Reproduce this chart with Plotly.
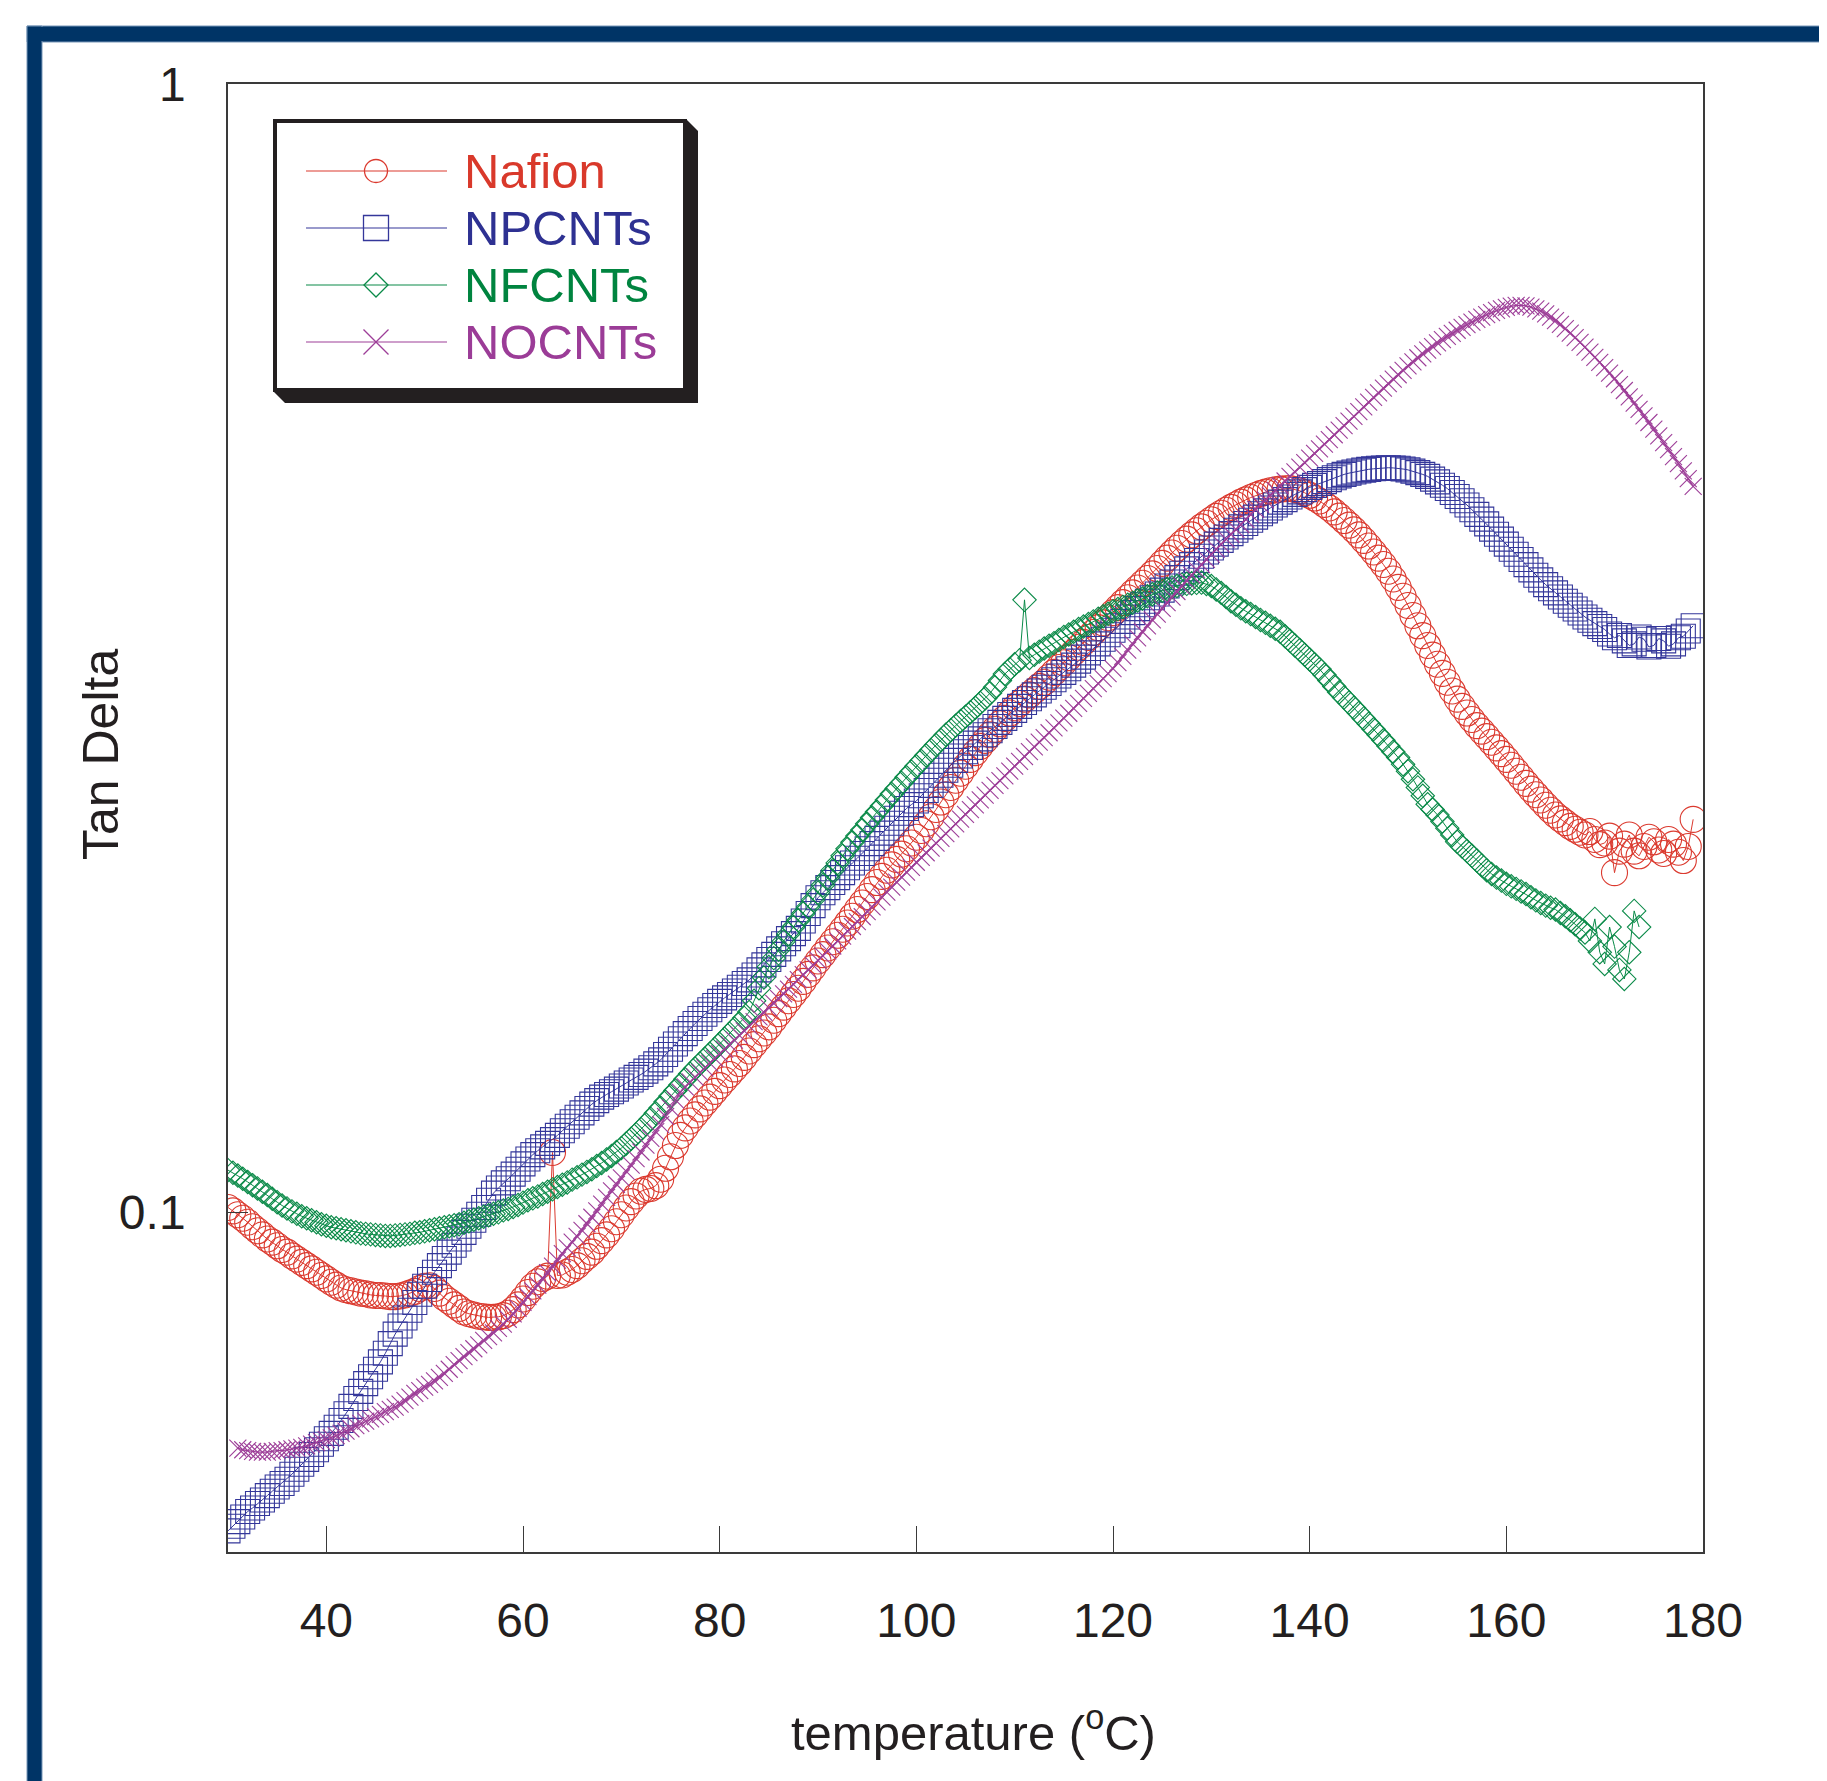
import math
import plotly.graph_objects as go

# ---------------- data (0.5 degC steps) ----------------
T0_NAFION, T0_NPCNT, T0_NFCNT, T0_NOCNT = 30.0, 30.0, 30.0, 31.0
T_STEP = 0.5

NAFION = [
    0.1010, 0.1003, 0.0995, 0.0988, 0.0980, 0.0971, 0.0963, 0.0955, 0.0947, 0.0941,
    0.0934, 0.0927, 0.0922, 0.0915, 0.0909, 0.0903, 0.0897, 0.0891, 0.0885, 0.0879,
    0.0873, 0.0867, 0.0862, 0.0857, 0.0854, 0.0852, 0.0850, 0.0848, 0.0847, 0.0845,
    0.0844, 0.0844, 0.0843, 0.0842, 0.0842, 0.0843, 0.0845, 0.0848, 0.0851, 0.0856,
    0.0860, 0.0861, 0.0856, 0.0848, 0.0840, 0.0834, 0.0828, 0.0822, 0.0816, 0.0813,
    0.0811, 0.0809, 0.0808, 0.0807, 0.0807, 0.0808, 0.0810, 0.0814, 0.0820, 0.0828,
    0.0838, 0.0849, 0.0860, 0.0868, 0.0874, 0.0878, 0.1130, 0.0879, 0.0880, 0.0885,
    0.0890, 0.0897, 0.0906, 0.0914, 0.0922, 0.0933, 0.0944, 0.0955, 0.0967, 0.0981,
    0.0995, 0.1009, 0.1022, 0.1034, 0.1044, 0.1048, 0.1050, 0.1056, 0.1070, 0.1094,
    0.1120, 0.1146, 0.1170, 0.1188, 0.1205, 0.1220, 0.1235, 0.1250, 0.1265, 0.1280,
    0.1295, 0.1310, 0.1325, 0.1340, 0.1355, 0.1372, 0.1390, 0.1408, 0.1425, 0.1442,
    0.1460, 0.1480, 0.1500, 0.1520, 0.1540, 0.1560, 0.1580, 0.1602, 0.1625, 0.1647,
    0.1670, 0.1692, 0.1715, 0.1737, 0.1760, 0.1782, 0.1805, 0.1830, 0.1855, 0.1880,
    0.1905, 0.1932, 0.1960, 0.1985, 0.2010, 0.2032, 0.2055, 0.2077, 0.2100, 0.2125,
    0.2150, 0.2180, 0.2210, 0.2242, 0.2275, 0.2310, 0.2345, 0.2380, 0.2415, 0.2450,
    0.2485, 0.2520, 0.2555, 0.2588, 0.2620, 0.2650, 0.2680, 0.2710, 0.2740, 0.2770,
    0.2800, 0.2825, 0.2850, 0.2875, 0.2900, 0.2925, 0.2950, 0.2980, 0.3010, 0.3040,
    0.3070, 0.3102, 0.3135, 0.3168, 0.3200, 0.3232, 0.3265, 0.3298, 0.3330, 0.3365,
    0.3400, 0.3435, 0.3470, 0.3505, 0.3540, 0.3575, 0.3610, 0.3645, 0.3680, 0.3720,
    0.3760, 0.3800, 0.3840, 0.3878, 0.3915, 0.3950, 0.3985, 0.4018, 0.4050, 0.4080,
    0.4110, 0.4138, 0.4165, 0.4190, 0.4215, 0.4238, 0.4260, 0.4280, 0.4300, 0.4318,
    0.4335, 0.4348, 0.4360, 0.4368, 0.4375, 0.4378, 0.4380, 0.4372, 0.4360, 0.4342,
    0.4320, 0.4296, 0.4270, 0.4241, 0.4210, 0.4176, 0.4140, 0.4103, 0.4065, 0.4026,
    0.3985, 0.3940, 0.3895, 0.3848, 0.3800, 0.3751, 0.3700, 0.3642, 0.3580, 0.3516,
    0.3450, 0.3380, 0.3310, 0.3244, 0.3180, 0.3118, 0.3060, 0.3004, 0.2950, 0.2898,
    0.2850, 0.2808, 0.2770, 0.2734, 0.2700, 0.2670, 0.2640, 0.2610, 0.2580, 0.2550,
    0.2520, 0.2490, 0.2460, 0.2430, 0.2400, 0.2372, 0.2345, 0.2320, 0.2295, 0.2272,
    0.2250, 0.2232, 0.2215, 0.2198, 0.2185, 0.2172, 0.2160, 0.2175, 0.2140, 0.2118,
    0.2125, 0.2155, 0.2000, 0.2090, 0.2120, 0.2160, 0.2090, 0.2070, 0.2110, 0.2150,
    0.2130, 0.2095, 0.2080, 0.2140, 0.2120, 0.2085, 0.2050, 0.2110, 0.2230,
]

NPCNT = [
    0.0522, 0.0527, 0.0532, 0.0537, 0.0543, 0.0547, 0.0552, 0.0556, 0.0561, 0.0566,
    0.0571, 0.0575, 0.0580, 0.0586, 0.0592, 0.0598, 0.0604, 0.0610, 0.0616, 0.0623,
    0.0630, 0.0637, 0.0645, 0.0654, 0.0663, 0.0673, 0.0684, 0.0694, 0.0705, 0.0715,
    0.0726, 0.0737, 0.0750, 0.0765, 0.0780, 0.0793, 0.0806, 0.0819, 0.0832, 0.0846,
    0.0860, 0.0872, 0.0885, 0.0897, 0.0910, 0.0922, 0.0935, 0.0947, 0.0960, 0.0972,
    0.0984, 0.0996, 0.1010, 0.1025, 0.1040, 0.1051, 0.1062, 0.1071, 0.1081, 0.1092,
    0.1104, 0.1115, 0.1125, 0.1134, 0.1143, 0.1151, 0.1160, 0.1170, 0.1181, 0.1192,
    0.1203, 0.1214, 0.1225, 0.1236, 0.1247, 0.1256, 0.1265, 0.1272, 0.1279, 0.1286,
    0.1294, 0.1302, 0.1310, 0.1317, 0.1325, 0.1334, 0.1343, 0.1354, 0.1365, 0.1380,
    0.1395, 0.1410, 0.1425, 0.1440, 0.1455, 0.1470, 0.1485, 0.1498, 0.1512, 0.1525,
    0.1538, 0.1549, 0.1560, 0.1571, 0.1583, 0.1595, 0.1607, 0.1623, 0.1640, 0.1657,
    0.1675, 0.1693, 0.1712, 0.1730, 0.1748, 0.1766, 0.1785, 0.1812, 0.1840, 0.1870,
    0.1900, 0.1920, 0.1940, 0.1960, 0.1980, 0.2000, 0.2020, 0.2040, 0.2060, 0.2080,
    0.2100, 0.2122, 0.2145, 0.2168, 0.2190, 0.2212, 0.2235, 0.2258, 0.2280, 0.2298,
    0.2315, 0.2340, 0.2365, 0.2390, 0.2415, 0.2440, 0.2465, 0.2490, 0.2515, 0.2538,
    0.2560, 0.2582, 0.2605, 0.2628, 0.2650, 0.2672, 0.2695, 0.2718, 0.2740, 0.2762,
    0.2785, 0.2808, 0.2830, 0.2852, 0.2875, 0.2898, 0.2920, 0.2942, 0.2965, 0.2988,
    0.3010, 0.3032, 0.3055, 0.3080, 0.3105, 0.3132, 0.3160, 0.3190, 0.3220, 0.3250,
    0.3280, 0.3310, 0.3340, 0.3370, 0.3400, 0.3428, 0.3455, 0.3480, 0.3505, 0.3532,
    0.3560, 0.3590, 0.3620, 0.3652, 0.3685, 0.3718, 0.3750, 0.3782, 0.3815, 0.3848,
    0.3880, 0.3910, 0.3940, 0.3968, 0.3995, 0.4022, 0.4050, 0.4078, 0.4105, 0.4132,
    0.4160, 0.4185, 0.4210, 0.4235, 0.4260, 0.4282, 0.4305, 0.4328, 0.4350, 0.4370,
    0.4390, 0.4408, 0.4425, 0.4442, 0.4460, 0.4478, 0.4495, 0.4508, 0.4520, 0.4530,
    0.4540, 0.4548, 0.4555, 0.4560, 0.4565, 0.4568, 0.4570, 0.4568, 0.4565, 0.4558,
    0.4550, 0.4538, 0.4525, 0.4508, 0.4490, 0.4465, 0.4440, 0.4410, 0.4380, 0.4345,
    0.4310, 0.4272, 0.4235, 0.4195, 0.4155, 0.4115, 0.4075, 0.4032, 0.3990, 0.3950,
    0.3910, 0.3870, 0.3830, 0.3790, 0.3750, 0.3710, 0.3670, 0.3635, 0.3600, 0.3570,
    0.3540, 0.3510, 0.3480, 0.3452, 0.3425, 0.3398, 0.3370, 0.3348, 0.3325, 0.3305,
    0.3285, 0.3255, 0.3230, 0.3245, 0.3210, 0.3180, 0.3190, 0.3235, 0.3220, 0.3170,
    0.3180, 0.3225, 0.3210, 0.3175, 0.3190, 0.3230, 0.3240, 0.3275, 0.3310,
]

NFCNT = [
    0.1090, 0.1084, 0.1078, 0.1071, 0.1064, 0.1057, 0.1050, 0.1043, 0.1036, 0.1028,
    0.1021, 0.1014, 0.1008, 0.1002, 0.0997, 0.0992, 0.0988, 0.0984, 0.0980, 0.0976,
    0.0973, 0.0970, 0.0968, 0.0966, 0.0964, 0.0962, 0.0960, 0.0958, 0.0957, 0.0956,
    0.0955, 0.0954, 0.0953, 0.0953, 0.0954, 0.0955, 0.0956, 0.0957, 0.0959, 0.0960,
    0.0962, 0.0964, 0.0966, 0.0968, 0.0970, 0.0972, 0.0974, 0.0976, 0.0979, 0.0982,
    0.0985, 0.0988, 0.0991, 0.0994, 0.0997, 0.1000, 0.1004, 0.1007, 0.1011, 0.1015,
    0.1020, 0.1025, 0.1029, 0.1033, 0.1038, 0.1043, 0.1048, 0.1053, 0.1058, 0.1063,
    0.1069, 0.1074, 0.1080, 0.1086, 0.1092, 0.1099, 0.1106, 0.1114, 0.1122, 0.1131,
    0.1140, 0.1151, 0.1162, 0.1173, 0.1185, 0.1197, 0.1210, 0.1224, 0.1238, 0.1253,
    0.1268, 0.1282, 0.1297, 0.1312, 0.1327, 0.1341, 0.1355, 0.1368, 0.1382, 0.1396,
    0.1410, 0.1425, 0.1440, 0.1455, 0.1470, 0.1487, 0.1505, 0.1540, 0.1580, 0.1615,
    0.1650, 0.1680, 0.1710, 0.1738, 0.1765, 0.1790, 0.1815, 0.1840, 0.1865, 0.1892,
    0.1920, 0.1950, 0.1980, 0.2010, 0.2040, 0.2070, 0.2100, 0.2128, 0.2155, 0.2182,
    0.2210, 0.2238, 0.2265, 0.2292, 0.2320, 0.2348, 0.2375, 0.2402, 0.2430, 0.2458,
    0.2485, 0.2512, 0.2540, 0.2568, 0.2595, 0.2622, 0.2650, 0.2675, 0.2700, 0.2725,
    0.2750, 0.2775, 0.2800, 0.2828, 0.2855, 0.2885, 0.2920, 0.2960, 0.3000, 0.3030,
    0.3060, 0.3085, 0.3490, 0.3100, 0.3120, 0.3140, 0.3160, 0.3178, 0.3195, 0.3215,
    0.3235, 0.3252, 0.3270, 0.3288, 0.3305, 0.3322, 0.3340, 0.3358, 0.3375, 0.3392,
    0.3410, 0.3425, 0.3440, 0.3455, 0.3470, 0.3485, 0.3500, 0.3515, 0.3530, 0.3542,
    0.3555, 0.3568, 0.3580, 0.3590, 0.3600, 0.3606, 0.3610, 0.3613, 0.3615, 0.3605,
    0.3590, 0.3565, 0.3540, 0.3510, 0.3480, 0.3455, 0.3430, 0.3410, 0.3390, 0.3370,
    0.3350, 0.3330, 0.3310, 0.3290, 0.3270, 0.3240, 0.3210, 0.3180, 0.3150, 0.3120,
    0.3090, 0.3060, 0.3030, 0.2995, 0.2960, 0.2925, 0.2890, 0.2860, 0.2830, 0.2800,
    0.2770, 0.2740, 0.2710, 0.2680, 0.2650, 0.2620, 0.2590, 0.2560, 0.2530, 0.2495,
    0.2460, 0.2420, 0.2380, 0.2340, 0.2300, 0.2275, 0.2250, 0.2220, 0.2190, 0.2160,
    0.2130, 0.2110, 0.2090, 0.2070, 0.2050, 0.2030, 0.2010, 0.1995, 0.1980, 0.1968,
    0.1955, 0.1945, 0.1935, 0.1925, 0.1915, 0.1902, 0.1890, 0.1880, 0.1870, 0.1862,
    0.1855, 0.1842, 0.1830, 0.1815, 0.1800, 0.1785, 0.1770, 0.1740, 0.1820, 0.1700,
    0.1660, 0.1790, 0.1720, 0.1640, 0.1610, 0.1700, 0.1850, 0.1790,
]

NOCNT = [
    0.0618, 0.0616, 0.0615, 0.0614, 0.0613, 0.0613, 0.0613, 0.0614, 0.0615, 0.0615,
    0.0616, 0.0617, 0.0618, 0.0619, 0.0621, 0.0623, 0.0625, 0.0627,
    0.0629, 0.0631, 0.0634, 0.0637, 0.0640, 0.0643, 0.0647, 0.0650, 0.0653, 0.0656,
    0.0659, 0.0662, 0.0666, 0.0669, 0.0672, 0.0676, 0.0681, 0.0686, 0.0691, 0.0695,
    0.0700, 0.0704, 0.0709, 0.0714, 0.0720, 0.0726, 0.0733, 0.0739, 0.0745, 0.0751,
    0.0757, 0.0763, 0.0770, 0.0776, 0.0782, 0.0789, 0.0796, 0.0804, 0.0813, 0.0822,
    0.0832, 0.0842, 0.0852, 0.0862, 0.0873, 0.0884, 0.0896, 0.0907, 0.0919, 0.0930,
    0.0941, 0.0952, 0.0964, 0.0977, 0.0990, 0.1003, 0.1017, 0.1031, 0.1045, 0.1059,
    0.1073, 0.1087, 0.1101, 0.1116, 0.1131, 0.1147, 0.1163, 0.1179, 0.1196, 0.1216,
    0.1237, 0.1258, 0.1278, 0.1292, 0.1305, 0.1318, 0.1330, 0.1343, 0.1356, 0.1369,
    0.1382, 0.1395, 0.1408, 0.1421, 0.1435, 0.1448, 0.1462, 0.1476, 0.1490, 0.1504,
    0.1518, 0.1532, 0.1547, 0.1562, 0.1577, 0.1592, 0.1608, 0.1624, 0.1640, 0.1656,
    0.1672, 0.1688, 0.1705, 0.1722, 0.1740, 0.1757, 0.1775, 0.1792, 0.1810, 0.1828,
    0.1847, 0.1865, 0.1884, 0.1903, 0.1922, 0.1942, 0.1962, 0.1982, 0.2002, 0.2022,
    0.2043, 0.2063, 0.2083, 0.2103, 0.2124, 0.2145, 0.2166, 0.2187, 0.2209, 0.2231,
    0.2253, 0.2275, 0.2297, 0.2320, 0.2343, 0.2366, 0.2390, 0.2413, 0.2437, 0.2461,
    0.2486, 0.2510, 0.2535, 0.2560, 0.2585, 0.2610, 0.2635, 0.2661, 0.2688, 0.2715,
    0.2742, 0.2769, 0.2797, 0.2825, 0.2854, 0.2883, 0.2912, 0.2942, 0.2972, 0.3002,
    0.3033, 0.3070, 0.3110, 0.3150, 0.3190, 0.3230, 0.3270, 0.3310, 0.3350, 0.3390,
    0.3430, 0.3470, 0.3510, 0.3550, 0.3590, 0.3630, 0.3670, 0.3710, 0.3750, 0.3790,
    0.3830, 0.3870, 0.3910, 0.3950, 0.3990, 0.4030, 0.4070, 0.4112, 0.4155, 0.4198,
    0.4240, 0.4280, 0.4320, 0.4362, 0.4405, 0.4448, 0.4490, 0.4532, 0.4575, 0.4618,
    0.4660, 0.4705, 0.4750, 0.4795, 0.4840, 0.4888, 0.4935, 0.4980, 0.5025, 0.5075,
    0.5125, 0.5175, 0.5225, 0.5275, 0.5325, 0.5375, 0.5425, 0.5475, 0.5525, 0.5575,
    0.5625, 0.5672, 0.5720, 0.5765, 0.5810, 0.5852, 0.5895, 0.5935, 0.5975, 0.6012,
    0.6050, 0.6085, 0.6120, 0.6152, 0.6185, 0.6215, 0.6245, 0.6272, 0.6300, 0.6320,
    0.6340, 0.6355, 0.6365, 0.6365, 0.6360, 0.6342, 0.6320, 0.6290, 0.6255, 0.6215,
    0.6170, 0.6122, 0.6070, 0.6015, 0.5960, 0.5902, 0.5845, 0.5785, 0.5725, 0.5665,
    0.5605, 0.5542, 0.5480, 0.5415, 0.5350, 0.5282, 0.5215, 0.5148, 0.5080, 0.5012,
    0.4945, 0.4878, 0.4810, 0.4742, 0.4675, 0.4608, 0.4540, 0.4470, 0.4400,
]

SERIES_NAMES = ["Nafion", "NPCNTs", "NFCNTs", "NOCNTs"]
X_TICKS = [40, 60, 80, 100, 120, 140, 160, 180]
Y_TICKS = [0.1, 1]
Y_TICK_TEXT = ["0.1", "1"]


def temps(t0, values):
    return [t0 + T_STEP * i for i in range(len(values))]


# ---------------- styling ----------------
RED = "#DB3A2F"
BLUE = "#34379A"
GREEN = "#0A8A48"
PURPLE = "#9D3E98"
TEXT_RED = "#D9392B"
TEXT_BLUE = "#2E3192"
TEXT_GREEN = "#00843F"
TEXT_PURPLE = "#9B3C97"
INK = "#231F20"
NAVY = "#003466"
FONT = "Liberation Sans, Arial, Helvetica, sans-serif"

OFF = 8                      # page body margin
W, H = 1827 - OFF, 1781 - OFF
PL, PR, PT, PB = 228 - OFF, 1703 - OFF, 84 - OFF, 1552 - OFF   # plot area in figure px


def fx(sx):   # screen px -> paper
    return (sx - OFF - PL) / (PR - PL)


def fy(sy):
    return (PB - (sy - OFF)) / (PB - PT)


fig = go.Figure()

specs = [
    (temps(T0_NAFION, NAFION), NAFION, RED, "circle-open", 26, 1.0),
    (temps(T0_NPCNT, NPCNT), NPCNT, BLUE, "square-open", 24, 1.0),
    (temps(T0_NFCNT, NFCNT), NFCNT, GREEN, "diamond-open", 18, 1.0),
    (temps(T0_NOCNT, NOCNT), NOCNT, PURPLE, "x-thin-open", 17, 1.3),
]
for (tx, ty, col, sym, sz, lw), name in zip(specs, SERIES_NAMES):
    fig.add_trace(go.Scatter(
        x=tx, y=ty, name=name, mode="lines+markers",
        line=dict(color=col, width=lw),
        marker=dict(symbol=sym, size=sz, color=col, line=dict(width=1.1, color=col)),
        showlegend=False,
    ))

shapes = []
# dark blue page frame
for x0, x1, y0, y1 in [(27, 1900, 42, 26), (27, 42, 1900, 26)]:
    shapes.append(dict(type="rect", xref="paper", yref="paper",
                       x0=fx(x0), x1=fx(x1), y0=fy(y0), y1=fy(y1),
                       fillcolor=NAVY, line=dict(color="#7897B8", width=1), layer="above"))
for x0, x1, y0, y1 in [(28, 1900, 41, 27), (28, 41, 1900, 27)]:
    shapes.append(dict(type="rect", xref="paper", yref="paper",
                       x0=fx(x0), x1=fx(x1), y0=fy(y0), y1=fy(y1),
                       fillcolor=NAVY, line=dict(width=0), layer="above"))


def path(points):
    return "M " + " L ".join(f"{fx(a):.5f},{fy(b):.5f}" for a, b in points) + " Z"


# legend box with bevelled drop shadow
shapes.append(dict(type="path", xref="paper", yref="paper",
                   path=path([(686, 119), (698, 131), (698, 403), (285, 403), (273, 391)]),
                   fillcolor=INK, line=dict(width=0), layer="above"))
shapes.append(dict(type="rect", xref="paper", yref="paper",
                   x0=fx(275), x1=fx(685), y0=fy(390), y1=fy(121),
                   fillcolor="white", line=dict(color=INK, width=4), layer="above"))

rows = [171, 228, 285, 342]
cols = [RED, BLUE, GREEN, PURPLE]
for r, c in zip(rows, cols):
    shapes.append(dict(type="line", xref="paper", yref="paper",
                       x0=fx(306), x1=fx(447), y0=fy(r), y1=fy(r),
                       line=dict(color=c, width=1.2), layer="above"))
mx = 376
shapes.append(dict(type="circle", xref="paper", yref="paper",
                   x0=fx(mx - 11.5), x1=fx(mx + 11.5), y0=fy(rows[0] + 11.5), y1=fy(rows[0] - 11.5),
                   line=dict(color=RED, width=1.3), layer="above"))
shapes.append(dict(type="rect", xref="paper", yref="paper",
                   x0=fx(mx - 12.5), x1=fx(mx + 12.5), y0=fy(rows[1] + 12.5), y1=fy(rows[1] - 12.5),
                   line=dict(color=BLUE, width=1.3), layer="above"))
r2 = rows[2]
shapes.append(dict(type="path", xref="paper", yref="paper",
                   path=path([(mx - 12, r2), (mx, r2 - 12), (mx + 12, r2), (mx, r2 + 12)]),
                   line=dict(color=GREEN, width=1.3), layer="above"))
r3 = rows[3]
xpath = (f"M {fx(mx-12.5):.5f},{fy(r3-12.5):.5f} L {fx(mx+12.5):.5f},{fy(r3+12.5):.5f} "
         f"M {fx(mx-12.5):.5f},{fy(r3+12.5):.5f} L {fx(mx+12.5):.5f},{fy(r3-12.5):.5f}")
shapes.append(dict(type="path", xref="paper", yref="paper", path=xpath,
                   line=dict(color=PURPLE, width=1.3), layer="above"))

annotations = []
for r, name, tc in zip(rows, SERIES_NAMES, [TEXT_RED, TEXT_BLUE, TEXT_GREEN, TEXT_PURPLE]):
    annotations.append(dict(xref="paper", yref="paper", x=fx(462), y=fy(r),
                            xanchor="left", yanchor="middle", showarrow=False,
                            text=name, font=dict(family=FONT, size=49, color=tc)))
annotations.append(dict(xref="paper", yref="paper", x=fx(973), y=fy(1729),
                        xanchor="center", yanchor="middle", showarrow=False,
                        text="temperature (<sup>o</sup>C)",
                        font=dict(family=FONT, size=49, color=INK)))
annotations.append(dict(xref="paper", yref="paper", x=fx(101), y=fy(755),
                        xanchor="center", yanchor="middle", showarrow=False,
                        textangle=-90, text="Tan Delta",
                        font=dict(family=FONT, size=50, color=INK)))

fig.update_layout(
    width=W, height=H,
    margin=dict(l=PL, r=W - PR, t=PT, b=H - PB, pad=0),
    paper_bgcolor="white", plot_bgcolor="rgba(0,0,0,0)",
    showlegend=False,
    shapes=shapes, annotations=annotations,
    font=dict(family=FONT, color=INK),
)
fig.update_xaxes(
    range=[30, 180], tickvals=X_TICKS, ticks="inside", ticklen=26, tickwidth=1.2,
    tickcolor="#3A3A3A", showgrid=False, zeroline=False,
    showline=True, linecolor="#3A3A3A", linewidth=1.6, mirror=True,
    tickfont=dict(family=FONT, size=48, color=INK), ticklabelstandoff=26,
)
fig.update_yaxes(
    type="log", range=[math.log10(0.05), 0], tickvals=Y_TICKS, ticktext=Y_TICK_TEXT,
    ticks="inside", ticklen=20, tickwidth=1.2, tickcolor="#3A3A3A",
    showgrid=False, zeroline=False, minor=dict(ticks="", showgrid=False),
    showline=True, linecolor="#3A3A3A", linewidth=1.6, mirror=True,
    tickfont=dict(family=FONT, size=48, color=INK), ticklabelstandoff=31,
)

fig.write_html("out.html")
